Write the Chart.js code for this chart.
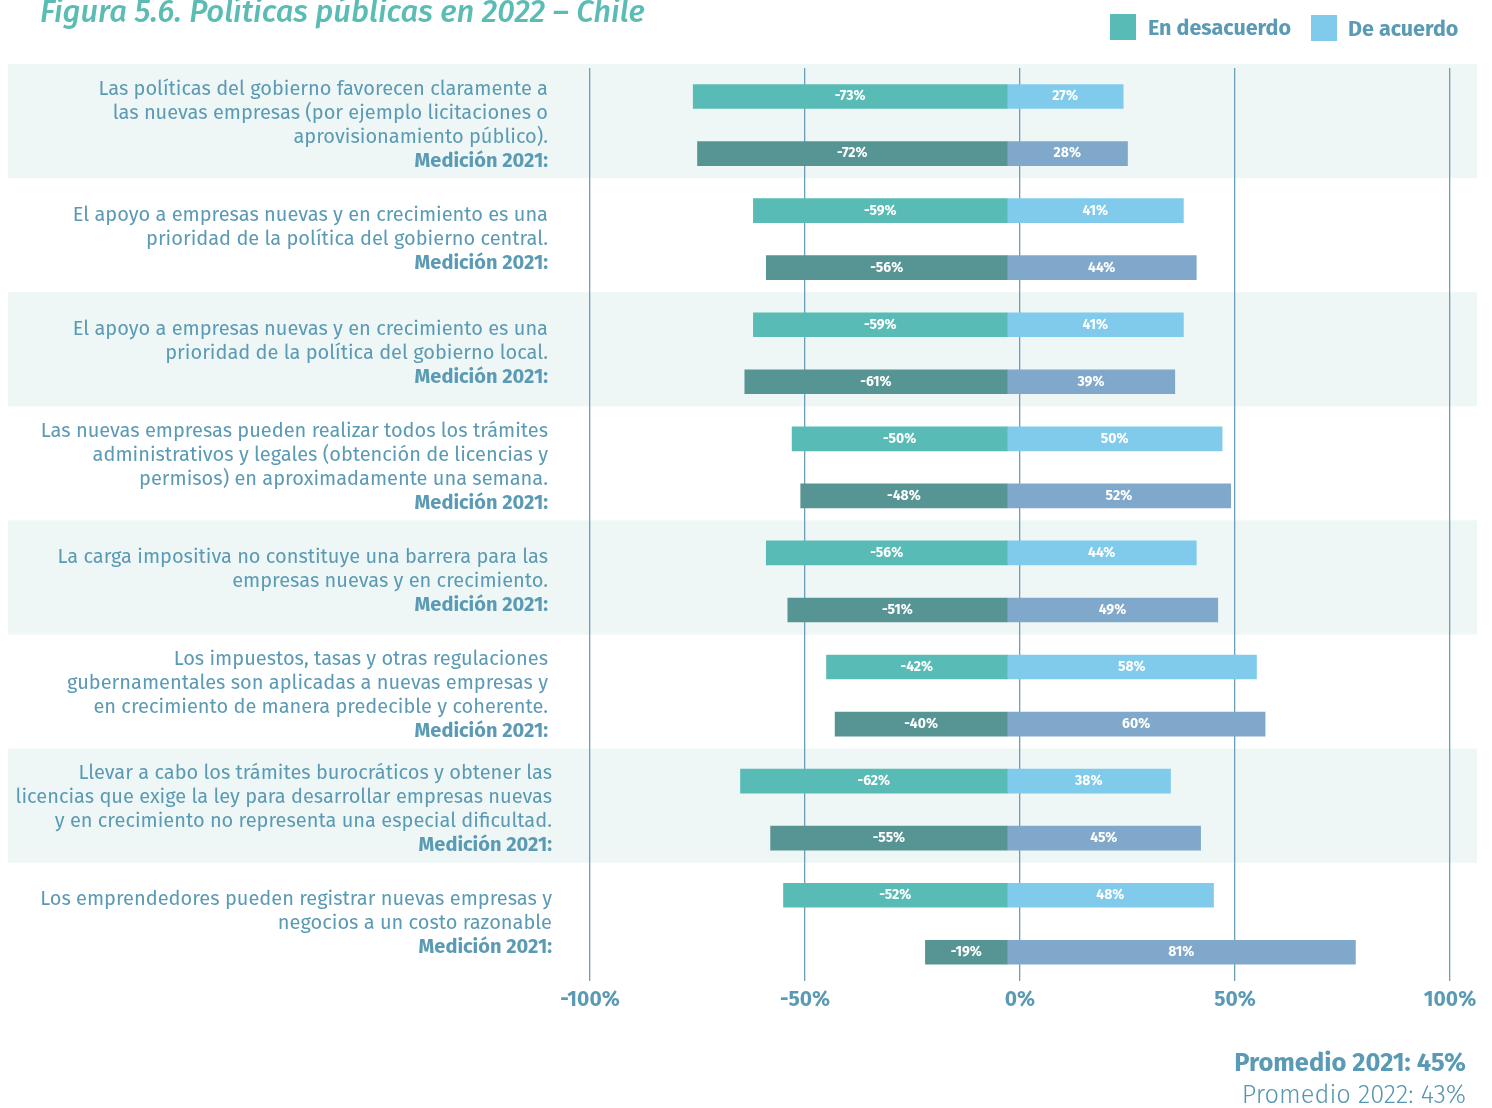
<!DOCTYPE html>
<html>
<head>
<meta charset="utf-8">
<script src="https://cdn.jsdelivr.net/npm/chart.js@4/dist/chart.umd.min.js"></script>
<style>
  html, body { margin: 0; padding: 0; background: #fff; }
  #wrap { width: 1492px; height: 1108px; position: relative; }
</style>
</head>
<body>
<div id="wrap"><canvas id="chart" width="1492" height="1108"></canvas></div>
<script>
// -------- Data --------
const statements = [
  ["Las políticas del gobierno favorecen claramente a", "las nuevas empresas (por ejemplo licitaciones o", "aprovisionamiento público)."],
  ["El apoyo a empresas nuevas y en crecimiento es una", "prioridad de la política del gobierno central."],
  ["El apoyo a empresas nuevas y en crecimiento es una", "prioridad de la política del gobierno local."],
  ["Las nuevas empresas pueden realizar todos los trámites", "administrativos y legales (obtención de licencias y", "permisos) en aproximadamente una semana."],
  ["La carga impositiva no constituye una barrera para las", "empresas nuevas y en crecimiento."],
  ["Los impuestos, tasas y otras regulaciones", "gubernamentales son aplicadas a nuevas empresas y", "en crecimiento de manera predecible y coherente."],
  ["Llevar a cabo los trámites burocráticos y obtener las", "licencias que exige la ley para desarrollar empresas nuevas", "y en crecimiento no representa una especial dificultad."],
  ["Los emprendedores pueden registrar nuevas empresas y", "negocios a un costo razonable"]
];
const desacuerdo2022 = [-73, -59, -59, -50, -56, -42, -62, -52];
const acuerdo2022    = [27, 41, 41, 50, 44, 58, 38, 48];
const desacuerdo2021 = [-72, -56, -61, -48, -51, -40, -55, -19];
const acuerdo2021    = [28, 44, 39, 52, 49, 60, 45, 81];
const xTicks = [-100, -50, 0, 50, 100];
const legendLabels = ["En desacuerdo", "De acuerdo"];
const promedio2021 = "Promedio 2021: 45%";
const promedio2022 = "Promedio 2022: 43%";

// -------- Style --------
const SPLIT = -3;          // bars meet slightly left of the 0% line, as in the source
const FONT = "'Fira Sans', Roboto, 'Noto Sans', sans-serif";
const TEXT = "#5b9ab4";
const C_DES22 = "#59bbb5", C_DES21 = "#579594";
const C_ACU22 = "#80cbec", C_ACU21 = "#80a8cb";
const BAND = "#eef7f6";
const GRID = "#6a9fb7";

// interleave 2022 / 2021 rows
const rows = [], des = [], acu = [], desCol = [], acuCol = [], desVal = [], acuVal = [];
statements.forEach((s, i) => {
  rows.push("g" + i + "-2022", "g" + i + "-2021");
  desVal.push(desacuerdo2022[i], desacuerdo2021[i]);
  acuVal.push(acuerdo2022[i], acuerdo2021[i]);
  des.push([SPLIT, SPLIT + desacuerdo2022[i]], [SPLIT, SPLIT + desacuerdo2021[i]]);
  acu.push([SPLIT, SPLIT + acuerdo2022[i]], [SPLIT, SPLIT + acuerdo2021[i]]);
  desCol.push(C_DES22, C_DES21);
  acuCol.push(C_ACU22, C_ACU21);
});

// -------- Decorations --------
const decor = {
  id: "decor",
  beforeDraw(chart) {
    const { ctx, scales: { y } } = chart;
    const step = y.getPixelForValue(1) - y.getPixelForValue(0);
    ctx.save();
    ctx.fillStyle = BAND;
    statements.forEach((s, i) => {
      if (i % 2) return;
      const top = y.getPixelForValue(2 * i) - step / 2;
      ctx.fillRect(8, top - 4, 1469, step * 2);
    });
    ctx.restore();
  },
  afterDatasetsDraw(chart) {
    const { ctx, scales: { y } } = chart;
    ctx.save();
    // bar values
    ctx.font = "bold 14px " + FONT;
    ctx.fillStyle = "#ffffff";
    ctx.textAlign = "center";
    ctx.textBaseline = "middle";
    [desVal, acuVal].forEach((vals, d) => {
      chart.getDatasetMeta(d).data.forEach((bar, k) => {
        const cx = (bar.x + bar.base) / 2;
        ctx.fillText(vals[k] + "%", cx, bar.y);
      });
    });
    // statement labels
    ctx.textAlign = "right";
    statements.forEach((lines, i) => {
      const mid = (y.getPixelForValue(2 * i) + y.getPixelForValue(2 * i + 1)) / 2;
      const all = lines.concat(["Medición 2021:"]);
      const lh = 24;
      const x = i >= 6 ? 552 : 548;
      let ty = mid - (all.length - 1) * lh / 2;
      all.forEach((t, k) => {
        const last = k === all.length - 1;
        ctx.font = (last ? "bold " : "") + "20px " + FONT;
        ctx.fillStyle = TEXT;
        ctx.fillText(t, x, ty + k * lh);
      });
    });
    ctx.restore();
  },
  afterDraw(chart) {
    const { ctx } = chart;
    ctx.save();
    // title
    ctx.font = "italic 500 31px " + FONT;
    ctx.fillStyle = "#5bbcb4";
    ctx.textAlign = "left";
    ctx.textBaseline = "alphabetic";
    ctx.fillText("Figura 5.6. Políticas públicas en 2022 – Chile", 40, 22);
    // legend
    ctx.font = "bold 21.5px " + FONT;
    ctx.textBaseline = "middle";
    ctx.fillStyle = C_DES22;
    ctx.fillRect(1110, 14, 26, 26);
    ctx.fillStyle = C_ACU22;
    ctx.fillRect(1311, 15, 26, 26);
    ctx.fillStyle = TEXT;
    ctx.fillText(legendLabels[0], 1148, 29);
    ctx.fillText(legendLabels[1], 1348, 30);
    // averages
    ctx.textAlign = "right";
    ctx.font = "bold 25.5px " + FONT;
    ctx.fillStyle = TEXT;
    ctx.fillText(promedio2021, 1466, 1064);
    ctx.font = "300 25.5px " + FONT;
    ctx.fillStyle = "#5896b0";
    ctx.fillText(promedio2022, 1466, 1096);
    ctx.restore();
  }
};

// -------- Chart --------
new Chart(document.getElementById("chart"), {
  type: "bar",
  data: {
    labels: rows,
    datasets: [
      { label: legendLabels[0], data: des, backgroundColor: desCol, barThickness: 24 },
      { label: legendLabels[1], data: acu, backgroundColor: acuCol, barThickness: 24 }
    ]
  },
  options: {
    indexAxis: "y",
    responsive: false,
    animation: false,
    layout: { padding: { left: 590, right: 42, top: 68, bottom: 88 } },
    plugins: { legend: { display: false }, tooltip: { enabled: false } },
    datasets: { bar: { grouped: false } },
    scales: {
      y: { display: false },
      x: {
        min: -100, max: 100,
        afterBuildTicks: ax => { ax.ticks = xTicks.map(v => ({ value: v })); },
        grid: { color: GRID, lineWidth: 1.3, drawTicks: false },
        border: { display: false },
        ticks: {
          padding: 7,
          color: TEXT,
          font: { family: FONT, size: 21, weight: "bold" },
          callback: v => v + "%"
        }
      }
    }
  },
  plugins: [decor]
});
</script>
</body>
</html>
